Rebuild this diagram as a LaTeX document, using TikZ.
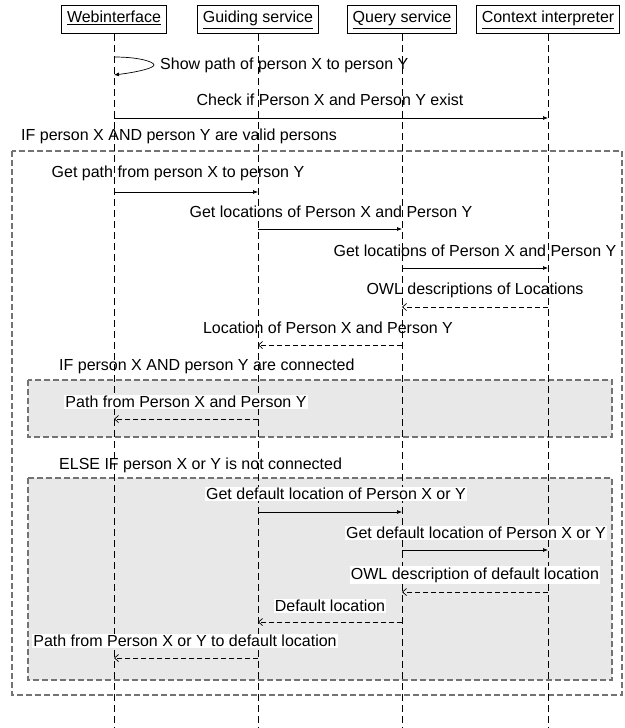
\documentclass[tikz,border=0pt]{standalone}
\usepackage{fontspec}
\setmainfont{Liberation Sans}
\usetikzlibrary{arrows.meta}
\begin{document}
\begin{tikzpicture}[x=1pt,y=-1pt,
  every node/.style={font=\fontsize{16}{19}\selectfont, inner sep=1pt},
  head/.style={draw=black, line width=0.8pt, minimum height=28pt, text height=11.5pt, text depth=3.5pt, inner xsep=5.5pt, fill=white},
  life/.style={draw=black, line width=0.7pt, dash pattern=on 7pt off 4pt},
  frame/.style={draw=black!55, line width=1.1pt, dash pattern=on 6pt off 3pt},
  altbox/.style={frame, fill=black!9},
  wlbl/.style={fill=white, inner xsep=1pt, inner ysep=1.5pt},
  call/.style={draw=black, line width=0.7pt, -{Latex[length=5pt,width=4pt]}},
  reply/.style={draw=black, line width=0.7pt, dash pattern=on 5pt off 3pt, -{Straight Barb[length=4pt,width=7pt]}}
]
\useasboundingbox (0,0) rectangle (624,728);

% frames
\draw[frame] (12,151) rectangle (622,695);
\draw[altbox] (28,380) rectangle (612,437);
\draw[altbox] (28,478) rectangle (612,680);

% lifeline coordinates
\coordinate (webE) at (114,728);
\coordinate (guiE) at (258,728);
\coordinate (queE) at (402,728);
\coordinate (ctxE) at (548,728);
\coordinate (webS) at (114,34);
\coordinate (guiS) at (258,34);
\coordinate (queS) at (402,34);
\coordinate (ctxS) at (548,34);

% lifelines
\draw[life] (webS) -- (webE);
\draw[life] (guiS) -- (guiE);
\draw[life] (queS) -- (queE);
\draw[life] (ctxS) -- (ctxE);

% heads
\node[head] (web) at (114,19) {\underline{Webinterface}};
\node[head] (gui) at (258,19) {\underline{Guiding service}};
\node[head] (que) at (402,19) {\underline{Query service}};
\node[head] (ctx) at (548,19) {\underline{Context interpreter}};

% labels
\node[anchor=west] (l0) at (159,65) {Show path of person X to person Y};
\node (l1) at (330,100) {Check if Person X and Person Y exist};
\node[anchor=west] (lif) at (20,136) {IF person X AND person Y are valid persons};
\node (l2) at (178,173) {Get path from person X to person Y};
\node (l3) at (331,212) {Get locations of Person X and Person Y};
\node (l4) at (475,251) {Get locations of Person X and Person Y};
\node (l5) at (475,290) {OWL descriptions of Locations};
\node (l6) at (328,328) {Location of Person X and Person Y};
\node[anchor=west] (lif2) at (58,366) {IF person X AND person Y are connected};
\node[wlbl] (l7) at (186,402) {Path from Person X and Person Y};
\node[anchor=west] (lel) at (58,465) {ELSE IF person X or Y is not connected};
\node[wlbl] (l8) at (336,494) {Get default location of Person X or Y};
\node[wlbl] (l9) at (476,533) {Get default location of Person X or Y};
\node[wlbl] (l10) at (475,575) {OWL description of default location};
\node[wlbl] (l11) at (330,606) {Default location};
\node[wlbl] (l12) at (185,641) {Path from Person X or Y to default location};

% message coordinates
\coordinate (s0a) at (114,57);
\coordinate (s0b) at (114,75);
\foreach \n/\y in {1/118,2/192,3/229,4/268,5/307,6/345,7/419,8/512,9/550,10/592,11/622,12/658}{
  \coordinate (w\n) at (114,\y);
  \coordinate (g\n) at (258,\y);
  \coordinate (q\n) at (402,\y);
  \coordinate (c\n) at (548,\y);
}

% messages
\draw[call] (s0a) .. controls (140,57) and (154,62) .. (154,65) .. controls (154,68) and (138,72) .. (s0b);
\draw[call] (w1) -- (c1);
\draw[call] (w2) -- (g2);
\draw[call] (g3) -- (q3);
\draw[call] (q4) -- (c4);
\draw[reply] (c5) -- (q5);
\draw[reply] (q6) -- (g6);
\draw[reply] (g7) -- (w7);
\draw[call] (g8) -- (q8);
\draw[call] (q9) -- (c9);
\draw[reply] (c10) -- (q10);
\draw[reply] (q11) -- (g11);
\draw[reply] (g12) -- (w12);
\end{tikzpicture}
\end{document}
